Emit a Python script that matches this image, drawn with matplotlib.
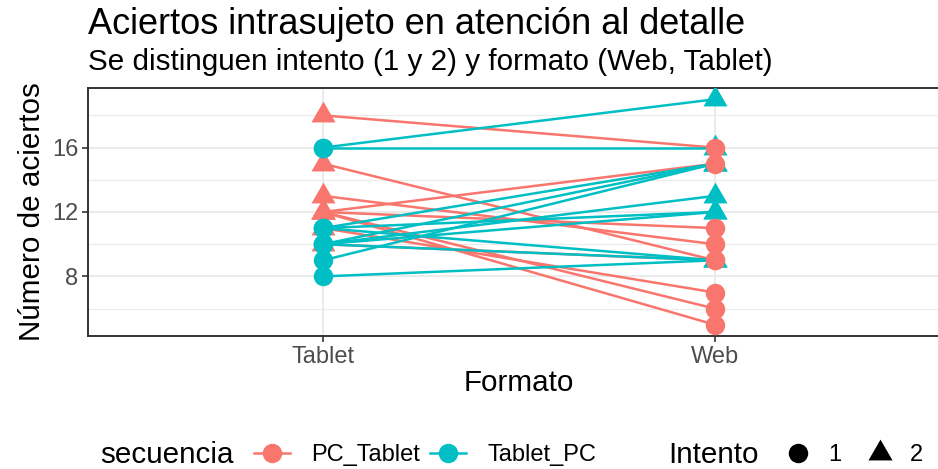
import matplotlib
matplotlib.use("Agg")
import matplotlib.pyplot as plt
from matplotlib.lines import Line2D

plt.rcParams["font.family"] = ["Liberation Sans", "DejaVu Sans"]

formatos = ["Tablet", "Web"]
secuencias = ["PC_Tablet", "Tablet_PC"]
intentos = ["1", "2"]

# PC_Tablet: intento 2 en Tablet, intento 1 en Web
pc_tablet_tablet = [18, 15, 13, 12, 12, 12, 12, 11, 10]
pc_tablet_web = [16, 9, 10, 15, 11, 6, 5, 7, 9]
# Tablet_PC: intento 1 en Tablet, intento 2 en Web
tablet_pc_tablet = [16, 16, 11, 10, 9, 10, 11, 10, 11, 10, 8]
tablet_pc_web = [19, 16, 15, 15, 15, 13, 12, 12, 9, 9, 9]

COLORS = {"PC_Tablet": "#F8766D", "Tablet_PC": "#00BFC4"}
TRI = [(0, 1.155), (-1, -0.577), (1, -0.577)]  # equilateral, centred
CIRC_MS, TRI_MS = 14, 20

BASE = 21.3
W, H = 938, 469

fig = plt.figure(figsize=(W / 100, H / 100), dpi=100)
ax = fig.add_axes([88 / W, 1 - 336 / H, (950 - 88) / W, (336 - 88) / H])

# subject lines (red first, cyan on top)
for tab, web, seq in [(pc_tablet_tablet, pc_tablet_web, "PC_Tablet"),
                      (tablet_pc_tablet, tablet_pc_web, "Tablet_PC")]:
    for a, b in zip(tab, web):
        ax.plot([1, 2], [a, b], color=COLORS[seq], lw=1.8, zorder=2,
                solid_capstyle="butt")

# points: intento 1 = circle, intento 2 = triangle
x_tab, x_web = 1, 2
ax.plot([x_tab] * len(pc_tablet_tablet), pc_tablet_tablet, ls="none",
        marker=TRI, ms=TRI_MS, color=COLORS["PC_Tablet"], mew=0, zorder=3)
ax.plot([x_tab] * len(tablet_pc_tablet), tablet_pc_tablet, ls="none",
        marker="o", ms=CIRC_MS, color=COLORS["Tablet_PC"], mew=0, zorder=3)
ax.plot([x_web] * len(tablet_pc_web), tablet_pc_web, ls="none",
        marker=TRI, ms=TRI_MS, color=COLORS["Tablet_PC"], mew=0, zorder=3)
ax.plot([x_web] * len(pc_tablet_web), pc_tablet_web, ls="none",
        marker="o", ms=CIRC_MS, color=COLORS["PC_Tablet"], mew=0, zorder=3)

ax.set_xlim(0.4, 2.6)
ax.set_ylim(4.3, 19.7)
ax.set_xticks([1, 2], formatos)
ax.set_yticks([8, 12, 16])
ax.set_yticks([6, 10, 14, 18], minor=True)
ax.set_xticks([], minor=True)
ax.grid(True, which="major", color="#EBEBEB", lw=1.5, zorder=0)
ax.grid(True, which="minor", axis="y", color="#EBEBEB", lw=0.8, zorder=0)
ax.set_axisbelow(True)
for sp in ax.spines.values():
    sp.set_color("#333333")
    sp.set_linewidth(1.4)
ax.tick_params(which="major", length=4, width=1.2, color="#333333",
               labelcolor="#4D4D4D", labelsize=BASE * 0.8, pad=3)
ax.tick_params(which="minor", length=0)

fig.text(88 / W, 1 - 7 / H, "Aciertos intrasujeto en atención al detalle",
         fontsize=BASE * 1.22, ha="left", va="top")
fig.text(88 / W, 1 - 48 / H, "Se distinguen intento (1 y 2) y formato (Web, Tablet)",
         fontsize=BASE, ha="left", va="top")
fig.text(32 / W, 1 - 212 / H, "Número de aciertos", fontsize=BASE,
         rotation=90, ha="center", va="center")
fig.text(519 / W, 1 - 383 / H, "Formato", fontsize=BASE, ha="center", va="center")

# legends
ly = 1 - 455 / H
fig.text(100 / W, ly, "secuencia", fontsize=BASE, ha="left", va="center")
seq_handles = [Line2D([], [], color=COLORS[s], lw=1.8, marker="o", ms=CIRC_MS, mew=0)
               for s in secuencias]
fig.legend(seq_handles, secuencias, loc="center left", bbox_to_anchor=(254 / W, ly),
           ncol=2, frameon=False, fontsize=BASE * 0.8, handlelength=1.5,
           handletextpad=0.9, columnspacing=0.45, borderpad=0, borderaxespad=0)
fig.text(668 / W, ly, "Intento", fontsize=BASE, ha="left", va="center")
int_handles = [Line2D([], [], ls="none", color="black", marker="o", ms=CIRC_MS, mew=0),
               Line2D([], [], ls="none", color="black", marker=TRI, ms=TRI_MS, mew=0)]
fig.legend(int_handles, intentos, loc="center left", bbox_to_anchor=(780 / W, ly),
           ncol=2, frameon=False, fontsize=BASE * 0.8, handlelength=1.5,
           handletextpad=0.55, columnspacing=0.85, borderpad=0, borderaxespad=0)

fig.savefig("out.png", dpi=100)
